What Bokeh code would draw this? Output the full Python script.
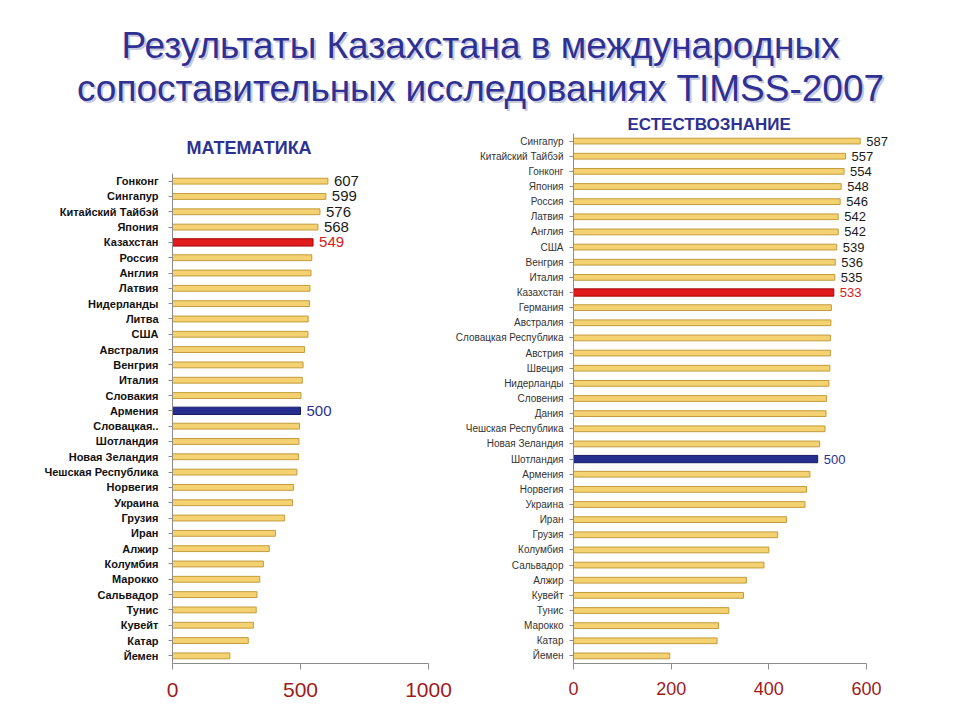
from bokeh.plotting import figure
from bokeh.models import ColumnDataSource, FactorRange, Range1d, FixedTicker, Title, Spacer
from bokeh.layouts import column, row
from bokeh.core.properties import value
from bokeh.embed import file_html
from bokeh.resources import INLINE

# ---------------- data ----------------
title_lines = ["Результаты Казахстана в международных",
               "сопоставительных исследованиях TIMSS-2007"]

math_title = "МАТЕМАТИКА"
math_countries = ["Гонконг", "Сингапур", "Китайский Тайбэй", "Япония", "Казахстан",
                  "Россия", "Англия", "Латвия", "Нидерланды", "Литва", "США",
                  "Австралия", "Венгрия", "Италия", "Словакия", "Армения",
                  "Словацкая..", "Шотландия", "Новая Зеландия", "Чешская Республика",
                  "Норвегия", "Украина", "Грузия", "Иран", "Алжир", "Колумбия",
                  "Марокко", "Сальвадор", "Тунис", "Кувейт", "Катар", "Йемен"]
math_scores = [607, 599, 576, 568, 549, 544, 541, 537, 535, 530, 529, 516, 510, 507,
               502, 500, 496, 494, 492, 486, 473, 469, 438, 402, 378, 355, 341, 330,
               327, 316, 296, 224]
math_labeled = ["Гонконг", "Сингапур", "Китайский Тайбэй", "Япония", "Казахстан", "Армения"]
math_bench = "Армения"
math_ticks = [0, 500, 1000]

sci_title = "ЕСТЕСТВОЗНАНИЕ"
sci_countries = ["Сингапур", "Китайский Тайбэй", "Гонконг", "Япония", "Россия", "Латвия",
                 "Англия", "США", "Венгрия", "Италия", "Казахстан", "Германия",
                 "Австралия", "Словацкая Республика", "Австрия", "Швеция", "Нидерланды",
                 "Словения", "Дания", "Чешская Республика", "Новая Зеландия", "Шотландия",
                 "Армения", "Норвегия", "Украина", "Иран", "Грузия", "Колумбия",
                 "Сальвадор", "Алжир", "Кувейт", "Тунис", "Марокко", "Катар", "Йемен"]
sci_scores = [587, 557, 554, 548, 546, 542, 542, 539, 536, 535, 533, 528, 527, 526, 526,
              525, 523, 518, 517, 515, 504, 500, 484, 477, 474, 436, 418, 400, 390, 354,
              348, 318, 297, 294, 197]
sci_labeled = ["Сингапур", "Китайский Тайбэй", "Гонконг", "Япония", "Россия", "Латвия",
               "Англия", "США", "Венгрия", "Италия", "Казахстан", "Шотландия"]
sci_bench = "Шотландия"
sci_ticks = [0, 200, 400, 600]

highlight = "Казахстан"

FONT = "Liberation Sans"
GOLD, GOLD_EDGE = "#F4D272", "#C39B3C"
RED, RED_EDGE = "#E11B1B", "#A00808"
NAVY, NAVY_EDGE = "#252E8E", "#161B63"
TITLE_COLOR = "#2E3192"
TICK_RED = "#9E1B1B"


def make_source(countries, scores, labeled, bench):
    fill, edge, lab, lcol, hgt = [], [], [], [], []
    for c, s in zip(countries, scores):
        if c == highlight:
            fill.append(RED); edge.append(RED_EDGE); lcol.append("#D42020"); hgt.append(0.48)
        elif c == bench:
            fill.append(NAVY); edge.append(NAVY_EDGE); lcol.append("#2B3190"); hgt.append(0.48)
        else:
            fill.append(GOLD); edge.append(GOLD_EDGE); lcol.append("#1a1a1a"); hgt.append(0.38)
        lab.append(str(s) if c in labeled else "")
    return ColumnDataSource(dict(country=countries, score=scores, fill=fill, edge=edge,
                                 label=lab, lcolor=lcol, h=hgt))


def make_chart(countries, scores, labeled, bench, ticks, xmax, axis_max, width, height,
               mb_left, mb_right, mb_top, mb_bottom, title, title_offset, title_standoff,
               title_size, ylab_size, ylab_style, ylab_color, ylab_standoff,
               xlab_size, xlab_standoff, val_size):
    src = make_source(countries, scores, labeled, bench)
    p = figure(width=width, height=height, output_backend="svg", toolbar_location=None,
               y_range=FactorRange(*reversed(countries), range_padding=0),
               x_range=Range1d(0, xmax),
               min_border_left=mb_left, min_border_right=mb_right,
               min_border_top=mb_top, min_border_bottom=mb_bottom)
    p.title = Title(text=title, align="left", offset=title_offset, standoff=title_standoff,
                    text_font=FONT, text_font_size=title_size, text_font_style="bold",
                    text_color=TITLE_COLOR)
    p.outline_line_color = None
    p.xgrid.visible = False
    p.ygrid.visible = False
    p.background_fill_color = "white"
    p.border_fill_color = "white"

    p.hbar(y="country", right="score", left=0, height="h", source=src,
           fill_color="fill", line_color="edge", line_width=1)
    p.text(x="score", y="country", text="label", source=src, x_offset=6,
           text_baseline="middle", text_align="left", text_color="lcolor",
           text_font=value(FONT), text_font_size=val_size)

    xa = p.xaxis[0]
    xa.ticker = FixedTicker(ticks=ticks)
    xa.bounds = (0, axis_max)
    xa.minor_tick_line_color = None
    xa.axis_line_color = "#8C8C8C"
    xa.major_tick_line_color = "#8C8C8C"
    xa.major_tick_out = 6
    xa.major_tick_in = 0
    xa.major_label_standoff = xlab_standoff
    xa.major_label_text_font = FONT
    xa.major_label_text_font_size = xlab_size
    xa.major_label_text_color = TICK_RED

    ya = p.yaxis[0]
    ya.axis_line_color = "#8C8C8C"
    ya.major_tick_line_color = "#8C8C8C"
    ya.major_tick_out = 4
    ya.major_tick_in = 0
    ya.major_label_standoff = ylab_standoff
    ya.major_label_text_font = FONT
    ya.major_label_text_font_size = ylab_size
    ya.major_label_text_font_style = ylab_style
    ya.major_label_text_color = ylab_color
    return p


# ---------------- header ----------------
HEADER_H = 112
header = figure(width=952, height=HEADER_H, output_backend="svg", toolbar_location=None,
                x_range=Range1d(0, 952), y_range=Range1d(0, HEADER_H),
                x_axis_location=None, y_axis_location=None,
                min_border=0)
header.outline_line_color = None
header.xgrid.visible = False
header.ygrid.visible = False
hsrc = ColumnDataSource(dict(x=[480, 480], y=[HEADER_H - 45, HEADER_H - 88], t=title_lines))
header.text(x="x", y="y", text="t", source=hsrc, x_offset=2, y_offset=2,
            text_align="center", text_baseline="middle", text_color="#B9BAD6",
            text_alpha=0.8, text_font=value(FONT), text_font_size="37px")
header.text(x="x", y="y", text="t", source=hsrc,
            text_align="center", text_baseline="middle", text_color=TITLE_COLOR,
            text_font=value(FONT), text_font_size="37px")

# ---------------- charts ----------------
LEFT_TOP = 120
left = make_chart(math_countries, math_scores, math_labeled, math_bench, math_ticks,
                  1000, 1000,
                  width=452, height=712 - LEFT_TOP, mb_left=172, mb_right=24,
                  mb_top=172 - LEFT_TOP, mb_bottom=49,
                  title=math_title, title_offset=14, title_standoff=31, title_size="18px",
                  ylab_size="11px", ylab_style="bold", ylab_color="#111111", ylab_standoff=10,
                  xlab_size="21px", xlab_standoff=13, val_size="15px")

right = make_chart(sci_countries, sci_scores, sci_labeled, sci_bench, sci_ticks,
                   690, 600,
                   width=500, height=712 - HEADER_H, mb_left=120, mb_right=42,
                   mb_top=19, mb_bottom=49,
                   title=sci_title, title_offset=54, title_standoff=0, title_size="17px",
                   ylab_size="10px", ylab_style="normal", ylab_color="#333333", ylab_standoff=6,
                   xlab_size="18px", xlab_standoff=12, val_size="13px")

layout = column(header,
                row(column(Spacer(height=LEFT_TOP - HEADER_H), left, spacing=0), right,
                    spacing=0),
                spacing=0)

open("out.html", "w").write(file_html(layout, INLINE))
